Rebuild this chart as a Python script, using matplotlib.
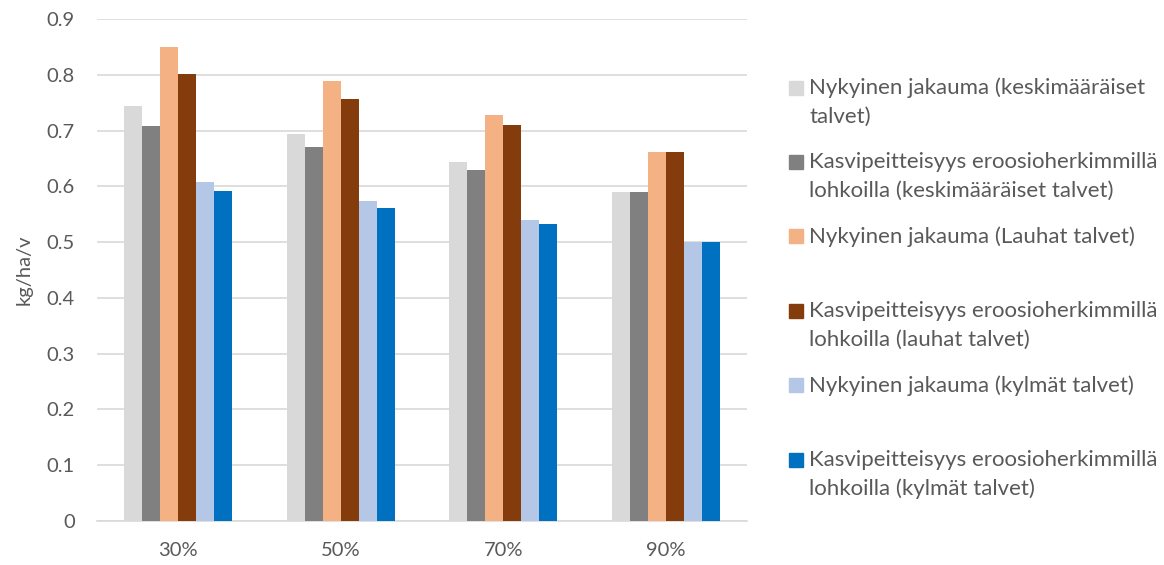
import matplotlib
matplotlib.use("Agg")
import matplotlib.pyplot as plt
import numpy as np
from matplotlib.patches import Rectangle

plt.rcParams['font.family'] = ['Lato', 'DejaVu Sans']

categories = ['30%', '50%', '70%', '90%']
series_names = [
    'Nykyinen jakauma (keskimääräiset\ntalvet)',
    'Kasvipeitteisyys eroosioherkimmillä\nlohkoilla (keskimääräiset talvet)',
    'Nykyinen jakauma (Lauhat talvet)',
    'Kasvipeitteisyys eroosioherkimmillä\nlohkoilla (lauhat talvet)',
    'Nykyinen jakauma (kylmät talvet)',
    'Kasvipeitteisyys eroosioherkimmillä\nlohkoilla (kylmät talvet)',
]
values = [
    [0.744, 0.694, 0.643, 0.590],
    [0.709, 0.670, 0.630, 0.590],
    [0.850, 0.788, 0.727, 0.661],
    [0.801, 0.756, 0.710, 0.661],
    [0.607, 0.573, 0.539, 0.500],
    [0.591, 0.561, 0.532, 0.500],
]
colors = ['#d9d9d9', '#808080', '#f4b183', '#843c0c', '#b4c7e7', '#0070c0']
yticks = [0, 0.1, 0.2, 0.3, 0.4, 0.5, 0.6, 0.7, 0.8, 0.9]

text_color = '#595959'
fig = plt.figure(figsize=(11.64, 5.65), dpi=100)
ax = fig.add_axes([97 / 1164, 1 - 521 / 565, 650 / 1164, 502 / 565])

x = np.arange(len(categories))
n = len(values)
bw = 0.663 / n
for i, (vals, c) in enumerate(zip(values, colors)):
    ax.bar(x + (i - (n - 1) / 2) * bw, vals, width=bw, color=c, zorder=3)

ax.set_xlim(-0.5, len(categories) - 0.5)
ax.set_ylim(0, 0.9)
ax.set_yticks(yticks)
ax.set_yticklabels(['0'] + [f'{v:.1f}' for v in yticks[1:]])
ax.set_xticks(x)
ax.set_xticklabels(categories)
ax.yaxis.grid(True, color='#d9d9d9', linewidth=1.2, zorder=0)
for s in ['top', 'right', 'left']:
    ax.spines[s].set_visible(False)
ax.spines['bottom'].set_color('#d9d9d9')
ax.spines['bottom'].set_linewidth(1.2)
ax.tick_params(length=0, labelsize=14.5, colors=text_color)
ax.tick_params(axis='y', pad=16)
ax.tick_params(axis='x', pad=15)
ax.set_ylabel('kg/ha/v', fontsize=14.5, color=text_color, labelpad=10)

# legend drawn by hand so every entry gets the same slot height
for i, (name, c) in enumerate(zip(series_names, colors)):
    ytop = 87.5 + i * 74.4
    fig.patches.append(Rectangle((789 / 1164, 1 - (ytop + 7) / 565), 14 / 1164, 14 / 565,
                                 transform=fig.transFigure, color=c))
    fig.text(809 / 1164, 1 - (ytop - 10) / 565, name, fontsize=16, color=text_color,
             va='top', ha='left', linespacing=1.55)

fig.savefig('out.png', dpi=100)
